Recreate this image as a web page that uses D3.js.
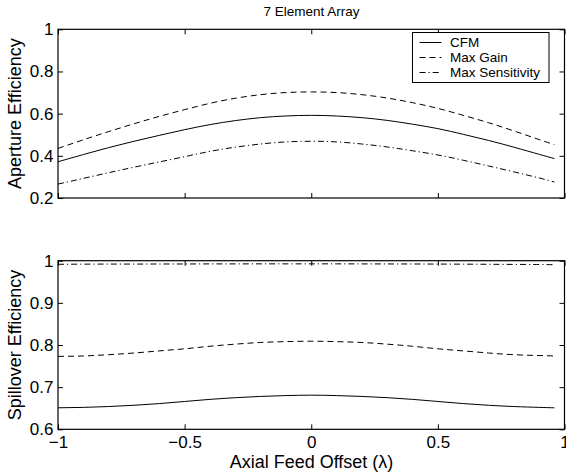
<!DOCTYPE html>
<html>
<head>
<meta charset="utf-8">
<script src="https://cdn.jsdelivr.net/npm/d3@7"></script>
<style>
body { margin: 0; background: #fff; }
svg { display: block; font-family: Arial, "Liberation Sans", Helvetica, sans-serif; }
</style>
</head>
<body>
<div id="my_dataviz"></div>
<script>
// axial feed offset (lambda)
var offsets = [-1, -0.9, -0.8, -0.7, -0.6, -0.5, -0.4, -0.3, -0.2, -0.1, 0, 0.1, 0.2, 0.3, 0.4, 0.5, 0.6, 0.7, 0.8, 0.9, 0.96];

// aperture efficiency
var apCFM  = [0.372, 0.406, 0.439, 0.469, 0.497, 0.524, 0.548, 0.567, 0.581, 0.589, 0.592, 0.589, 0.581, 0.568, 0.550, 0.529, 0.502, 0.473, 0.441, 0.407, 0.387];
var apGain = [0.435, 0.476, 0.515, 0.552, 0.587, 0.619, 0.649, 0.673, 0.690, 0.700, 0.703, 0.700, 0.690, 0.674, 0.652, 0.625, 0.592, 0.557, 0.518, 0.477, 0.453];
var apSens = [0.266, 0.293, 0.320, 0.346, 0.371, 0.396, 0.421, 0.441, 0.456, 0.466, 0.469, 0.466, 0.456, 0.442, 0.424, 0.404, 0.379, 0.352, 0.324, 0.295, 0.276];

// spillover efficiency
var spCFM  = [0.651, 0.652, 0.654, 0.657, 0.661, 0.666, 0.671, 0.675, 0.678, 0.680, 0.681, 0.680, 0.678, 0.675, 0.671, 0.666, 0.661, 0.657, 0.654, 0.652, 0.651];
var spGain = [0.773, 0.774, 0.777, 0.781, 0.786, 0.791, 0.797, 0.802, 0.806, 0.808, 0.809, 0.808, 0.806, 0.802, 0.797, 0.791, 0.786, 0.781, 0.777, 0.775, 0.774];
var spSens = [0.9915, 0.9918, 0.992, 0.992, 0.9922, 0.9922, 0.9924, 0.9924, 0.9925, 0.9925, 0.9925, 0.9925, 0.9924, 0.9923, 0.9922, 0.992, 0.9918, 0.9915, 0.9912, 0.991, 0.9905];

var seriesNames = ["CFM", "Max Gain", "Max Sensitivity"];
var dashes = [null, "6,4", "6,3,1.2,3"];

var xTicks = [-1, -0.5, 0, 0.5, 1];
var apTicks = [0.2, 0.4, 0.6, 0.8, 1];
var spTicks = [0.6, 0.7, 0.8, 0.9, 1];

var W = 566, H = 476;
var left = 58, right = 564.5;

var svg = d3.select('#my_dataviz')
    .append('svg')
    .attr('width', W)
    .attr('height', H);

var x = d3.scaleLinear().domain([-1, 1]).range([left, right]);

function panel(top, bottom, yDomain, yTicks, series, ylabel, showX) {
    var y = d3.scaleLinear().domain(yDomain).range([bottom, top]);
    var g = svg.append('g');

    var line = d3.line()
        .x(function(d, i){ return x(offsets[i]); })
        .y(function(d){ return y(d); })
        .curve(d3.curveNatural);

    series.forEach(function(s, k){
        g.append('path')
            .datum(s)
            .attr('d', line)
            .attr('fill', 'none')
            .attr('stroke', '#000')
            .attr('stroke-width', 1)
            .attr('stroke-dasharray', dashes[k]);
    });

    // box with inward ticks on all four sides
    g.append('rect')
        .attr('x', left).attr('y', top)
        .attr('width', right - left).attr('height', bottom - top)
        .attr('fill', 'none').attr('stroke', '#000').attr('stroke-width', 1.2);

    g.append('g')
        .attr('transform', 'translate(0,' + bottom + ')')
        .call(d3.axisBottom(x).tickValues(xTicks).tickSizeInner(-5).tickSizeOuter(0)
            .tickPadding(7).tickFormat(showX ? function(d){ return d3.format('')(d).replace('-', '\u2212'); } : ''));
    g.append('g')
        .attr('transform', 'translate(0,' + top + ')')
        .call(d3.axisTop(x).tickValues(xTicks).tickSizeInner(-5).tickSizeOuter(0).tickFormat(''));
    g.append('g')
        .attr('transform', 'translate(' + left + ',0)')
        .call(d3.axisLeft(y).tickValues(yTicks).tickSizeInner(-5).tickSizeOuter(0)
            .tickPadding(4.5).tickFormat(d3.format('')));
    g.append('g')
        .attr('transform', 'translate(' + right + ',0)')
        .call(d3.axisRight(y).tickValues(yTicks).tickSizeInner(-5).tickSizeOuter(0).tickFormat(''));

    g.selectAll('.domain').remove();
    g.selectAll('.tick line').attr('stroke', '#000');
    g.selectAll('.tick text').attr('fill', '#000').style('font-size', '17px')
        .style('font-family', 'Arial, "Liberation Sans", sans-serif');

    g.append('text')
        .attr('transform', 'translate(20.5,' + ((top + bottom) / 2) + ') rotate(-90)')
        .attr('text-anchor', 'middle')
        .style('font-size', '18px')
        .text(ylabel);
    return y;
}

panel(29.3, 198, [0.2, 1], apTicks, [apCFM, apGain, apSens], 'Aperture Efficiency', false);
panel(260.7, 429.3, [0.6, 1], spTicks, [spCFM, spGain, spSens], 'Spillover Efficiency', true);

svg.append('text')
    .attr('x', 311.5).attr('y', 15.7)
    .attr('text-anchor', 'middle')
    .style('font-size', '13.5px')
    .text('7 Element Array');

svg.append('text')
    .attr('x', 311.5).attr('y', 467.5)
    .attr('text-anchor', 'middle')
    .style('font-size', '18px')
    .text('Axial Feed Offset (\u03bb)');

// legend
var leg = svg.append('g');
leg.append('rect')
    .attr('x', 412.5).attr('y', 32.5)
    .attr('width', 136.5).attr('height', 50)
    .attr('fill', '#fff').attr('stroke', '#000').attr('stroke-width', 1);
seriesNames.forEach(function(name, k){
    var ly = 42.5 + k * 15;
    leg.append('line')
        .attr('x1', 419.5).attr('x2', 441.5)
        .attr('y1', ly).attr('y2', ly)
        .attr('stroke', '#000').attr('stroke-width', 1)
        .attr('stroke-dasharray', dashes[k]);
    leg.append('text')
        .attr('x', 450).attr('y', ly + 4.8)
        .style('font-size', '13.5px')
        .text(name);
});
</script>
</body>
</html>
